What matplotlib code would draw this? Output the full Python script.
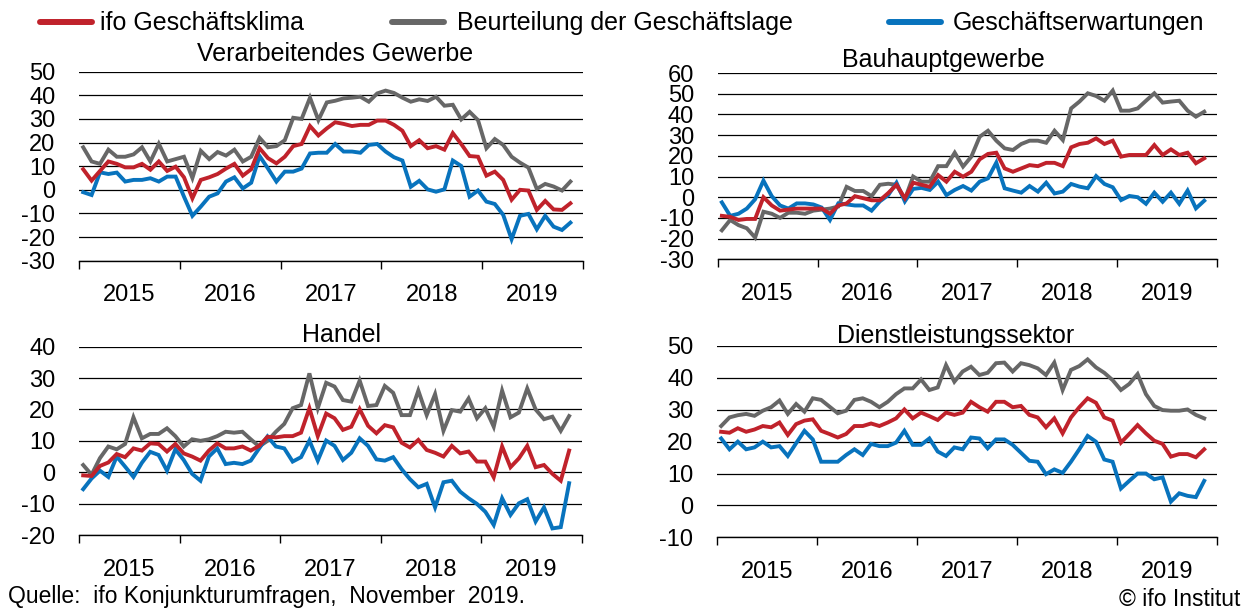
import matplotlib
matplotlib.use("Agg")
import matplotlib.pyplot as plt
from matplotlib.lines import Line2D
import numpy as np

plt.rcParams['font.family'] = ['Liberation Sans', 'DejaVu Sans']

# monthly values Jan 2015 - Nov 2019
years = ['2015', '2016', '2017', '2018', '2019']

verarb_klima = [8.7, 3.9, 8, 12, 11, 9.5, 9.5, 11, 8.5, 12, 8, 9.8, 5.3, -3.6, 4.2, 5.3, 6.7, 9, 11, 6,
                8.7, 17.6, 13.4, 11.2, 14, 18.5, 19.4, 27, 23, 26, 28.6, 27.9, 27, 27.5, 27.5, 29.3, 29.3, 27.5,
                25, 18.5, 21, 17.6, 18.5, 17, 24, 19.4, 14.3, 14, 6, 7.7, 4.2, -4.2, 0, -0.3, -8.5, -4.7, -8.3,
                -8.5, -5.7]
verarb_lage = [18, 12, 11, 17, 14, 14, 15, 18, 12, 19.5, 12, 13, 14, 5, 16.5, 13, 16, 14.5, 17, 12,
               14, 22, 18, 18.5, 21, 30.5, 30, 39, 29.5, 37, 37.7, 38.7, 39, 39.4, 37.3, 40.8, 42, 41,
               39, 37.3, 38.3, 37.6, 39.4, 35.6, 36, 29.8, 33, 29.5, 17.6, 21.5, 19, 14, 11.5, 9.4, 0.4,
               2.5, 1.4, -0.3, 3.5]
verarb_erw = [-1, -2.2, 7.4, 6.7, 7.3, 3.5, 4.2, 4.2, 4.9, 3.5, 5.6, 5.6, -2.9, -11, -7.1, -2.9, -1.5,
              3.5, 5.3, 0.6, 3, 14.3, 9, 3.5, 7.7, 7.7, 9, 15.4, 15.7, 15.7, 19.4, 16.2, 16.2, 15.7, 19,
              19.4, 16.2, 13.8, 12.4, 1.3, 3.8, 0.2, -0.8, 0.2, 12.4, 10.1, -2.9, -0.3, -5, -6, -10.6,
              -20.9, -11, -10.2, -16.7, -11, -15.6, -17, -13.9]

bau_klima = [-9, -9.5, -11, -10.5, -10.5, 0, -4, -6.5, -6, -5.5, -5.5, -5.5, -5.5, -8, -4, -3, 0.5,
             -0.5, -1.5, -1.5, 2, 6, -0.5, 7, 6, 5, 10.7, 7.5, 12.3, 9.9, 12.3, 18.3, 20.9, 21.5, 13.9,
             12.3, 13.9, 15.5, 15, 16.6, 16.6, 15, 24.1, 25.7, 26.3, 28.4, 25.7, 27.3, 19.6, 20.4, 20.4,
             20.4, 25.2, 20.4, 23.1, 20.4, 21.5, 16.4, 18.8]
bau_lage = [-16, -11, -13.5, -15, -19.5, -7, -8, -10, -7.5, -7.5, -8, -6.5, -6, -5.5, -4.5, 5, 3, 3,
            0.5, 6, 6.5, 6, -1, 10, 7.5, 7.5, 15, 15, 21.5, 14.8, 19.6, 29.2, 32.1, 27.3, 23.6, 22.8,
            25.7, 27.3, 27.3, 26.3, 32.1, 27.6, 42.9, 46.2, 50.2, 48.9, 46.6, 51.5, 41.8, 41.8, 42.9,
            46.6, 50.2, 45.7, 46.2, 46.6, 41.8, 38.9, 41.3]
bau_erw = [-2.5, -9, -8, -5.5, -1, 8, 0.5, -4, -5.5, -3, -3, -3.5, -5, -11, -3, -3.5, -4, -4, -6.5,
           -2, 1, 7, -2, 4, 4.5, 3.5, 7.5, 1, 3.5, 5.4, 3.2, 7.5, 9.1, 16.7, 4.3, 3.2, 2.2, 5.4, 2.7,
           7, 1.8, 2.7, 6.4, 5.1, 4.3, 10.2, 6.4, 4.8, -1.4, 0.6, 0, -3.2, 2.2, -2.2, 2.2, -3.2, 3.2,
           -5.4, -1.7]

handel_klima = [-1, -1.2, 2, 3.1, 5.8, 4.8, 7.6, 6.9, 9.2, 9, 6.6, 9, 6, 5, 3.7, 6.9, 9.2, 7.6, 7.6,
                8.2, 6.9, 8.4, 11.3, 11.1, 11.5, 11.5, 12.6, 20.4, 11.5, 18.7, 17.2, 13.5, 14.5, 20.1,
                14.8, 12.4, 15, 14.3, 9.4, 7.9, 10.3, 7.1, 6.2, 5, 8.4, 6, 6.6, 3.4, 3.4, -1.6, 8.2, 1.6,
                4.4, 8.4, 1.6, 2.3, -0.5, -2.7, 6.9]
handel_lage = [2.3, -0.8, 4.5, 8.2, 7.3, 9, 17.5, 10.8, 12.2, 12.2, 14, 11.5, 8.2, 10.5, 10, 10.5,
               11.5, 12.9, 12.6, 12.9, 10.5, 8.2, 10, 12.9, 15.4, 20.4, 21.4, 31.5, 20.4, 28.5, 27.3,
               23, 22.5, 29.2, 21.1, 21.4, 27.5, 25.3, 18.2, 18.2, 26, 18.2, 24.9, 13.2, 19.8, 19.3,
               23.5, 17.2, 20.4, 14.5, 26, 17.5, 19, 26.7, 20, 16.9, 17.7, 13.2, 17.9]
handel_erw = [-5.4, -2, 0.5, -1.5, 5, 1.8, -1.5, 3, 6.5, 5.5, 0.5, 7.3, 3.9, -0.5, -2.7, 5, 7.6, 2.6,
              3, 2.6, 3.7, 7.6, 11.4, 8.2, 7.6, 3.4, 4.8, 10.1, 3.7, 10.1, 8.4, 3.9, 6.2, 10.8, 8.4,
              4.1, 3.7, 4.8, 1, -2.2, -4.8, -3.7, -11.2, -3.2, -2.7, -6.2, -8.3, -10.1, -12.6, -16.8,
              -8.3, -13.6, -9.9, -8.6, -15.7, -11.2, -17.9, -17.5, -3.5]

dienst_klima = [23.1, 22.8, 24.2, 23.1, 23.8, 24.9, 24.5, 26, 22.1, 25.5, 26.6, 27, 23.4, 22.4, 21.3,
                22.4, 24.9, 24.9, 25.7, 24.9, 26, 27.3, 30.1, 27.3, 29.1, 28, 26.8, 29.1, 28.4, 29.1,
                32.5, 30.8, 29.4, 32.5, 32.5, 30.8, 31.2, 28.4, 27.6, 24.5, 27.3, 22.6, 27.6, 30.8,
                33.6, 32.2, 27.6, 26.6, 19.7, 22.4, 25.2, 22.6, 20.3, 19.3, 15.3, 16.1, 16.1, 15.1, 17.6]
dienst_lage = [24.9, 27.6, 28.3, 28.7, 28.1, 29.7, 30.8, 32.9, 28.7, 31.8, 29.4, 33.6, 33.1, 31, 28.9,
               29.7, 33.1, 33.6, 32.5, 30.8, 32.5, 34.9, 36.7, 36.7, 39.5, 36.2, 37, 44, 38.8, 42, 43.5,
               40.9, 41.6, 44.6, 44.8, 42, 44.6, 44, 43, 40.9, 44.8, 36.2, 42.5, 43.7, 45.8, 43.3, 41.6,
               39.3, 36.2, 38.1, 41.2, 34.9, 31.2, 29.9, 29.7, 29.7, 30.1, 28.4, 27.3]
dienst_erw = [21, 17.6, 20, 17.6, 18.2, 20, 18.2, 18.6, 15.5, 19.5, 23.4, 20.7, 13.7, 13.7, 13.7, 15.8,
              17.6, 15.8, 19.3, 18.6, 18.6, 19.7, 23.4, 19, 19, 21, 16.9, 15.5, 18.2, 17.6, 21.3, 21,
              17.9, 20.7, 20.7, 19, 16.5, 14, 13.7, 9.8, 11.3, 10.2, 13.7, 17.6, 21.8, 20, 14.4, 13.7,
              5.3, 7.7, 10, 10, 8.2, 8.8, 1.2, 3.8, 3, 2.6, 7.7]

c_klima = '#C0222B'
c_lage = '#676767'
c_erw = '#0873BD'

W, H = 1247, 610
fig = plt.figure(figsize=(12.47, 6.10), dpi=100)


def px_axes(x0, x1, ytop, ybot):
    return fig.add_axes([x0 / W, 1 - ybot / H, (x1 - x0) / W, (ybot - ytop) / H])


panels = [
    # title, klima, lage, erw, yticks, box (x0, x1, ytop, ybot), title x (axes frac), title y
    ('Verarbeitendes Gewerbe', verarb_klima, verarb_lage, verarb_erw,
     np.arange(-30, 51, 10), (79, 583, 71.7, 260.7), 0.508, 1.058),
    ('Bauhauptgewerbe', bau_klima, bau_lage, bau_erw,
     np.arange(-30, 61, 10), (717.7, 1216.7, 73, 259.3), 0.4525, 1.032),
    ('Handel', handel_klima, handel_lage, handel_erw,
     np.arange(-20, 41, 10), (79, 581.7, 346.7, 535), 0.523, 1.025),
    ('Dienstleistungssektor', dienst_klima, dienst_lage, dienst_erw,
     np.arange(-10, 51, 10), (717, 1216.7, 346, 537.3), 0.477, 1.016),
]

for title, klima, lage, erw, yt, box, tx, ty in panels:
    ax = px_axes(*box)
    x = np.arange(len(klima)) + 0.5
    ax.plot(x, lage, color=c_lage, lw=2.8, solid_joinstyle='miter', zorder=3)
    ax.plot(x, erw, color=c_erw, lw=2.8, solid_joinstyle='miter', zorder=4)
    ax.plot(x, klima, color=c_klima, lw=2.8, solid_joinstyle='miter', zorder=5)

    ax.set_xlim(0, 60)
    ax.set_ylim(yt[0], yt[-1])
    ax.set_yticks(yt)
    ax.set_yticklabels([str(v) for v in yt])
    ax.yaxis.grid(True, color='black', lw=0.9)
    ax.set_axisbelow(True)
    ax.tick_params(axis='y', length=0, pad=17, labelsize=17)

    ax.set_xticks(np.arange(0, 61, 12))
    ax.set_xticklabels([])
    ax.set_xticks(np.arange(6, 60, 12), minor=True)
    ax.set_xticklabels(years, minor=True)
    ax.tick_params(axis='x', which='major', direction='out', length=6, width=1, color='black')
    ax.tick_params(axis='x', which='minor', length=0, pad=17, labelsize=17)

    for s in ['left', 'right', 'top']:
        ax.spines[s].set_visible(False)
    ax.spines['bottom'].set_color('black')
    ax.spines['bottom'].set_linewidth(1)

    ax.text(tx, ty, title, transform=ax.transAxes, ha='center', va='baseline', fontsize=18)

# legend across the top
leg = [('ifo Geschäftsklima', c_klima, 40, 92, 100),
       ('Beurteilung der Geschäftslage', c_lage, 392, 444, 457),
       ('Geschäftserwartungen', c_erw, 889, 941, 953)]
for label, col, lx0, lx1, tx in leg:
    fig.add_artist(Line2D([lx0 / W, lx1 / W], [1 - 22 / H, 1 - 22 / H], color=col, lw=4.3,
                          solid_capstyle='round'))
    fig.text(tx / W, 1 - 30 / H, label, ha='left', va='baseline', fontsize=18)

fig.text(8 / W, 1 - 603 / H, 'Quelle:  ifo Konjunkturumfragen,  November  2019.',
         ha='left', va='baseline', fontsize=16.5)
fig.text(1240 / W, 1 - 606 / H, '© ifo Institut', ha='right', va='baseline', fontsize=16.5)

fig.savefig('out.png', dpi=100)
